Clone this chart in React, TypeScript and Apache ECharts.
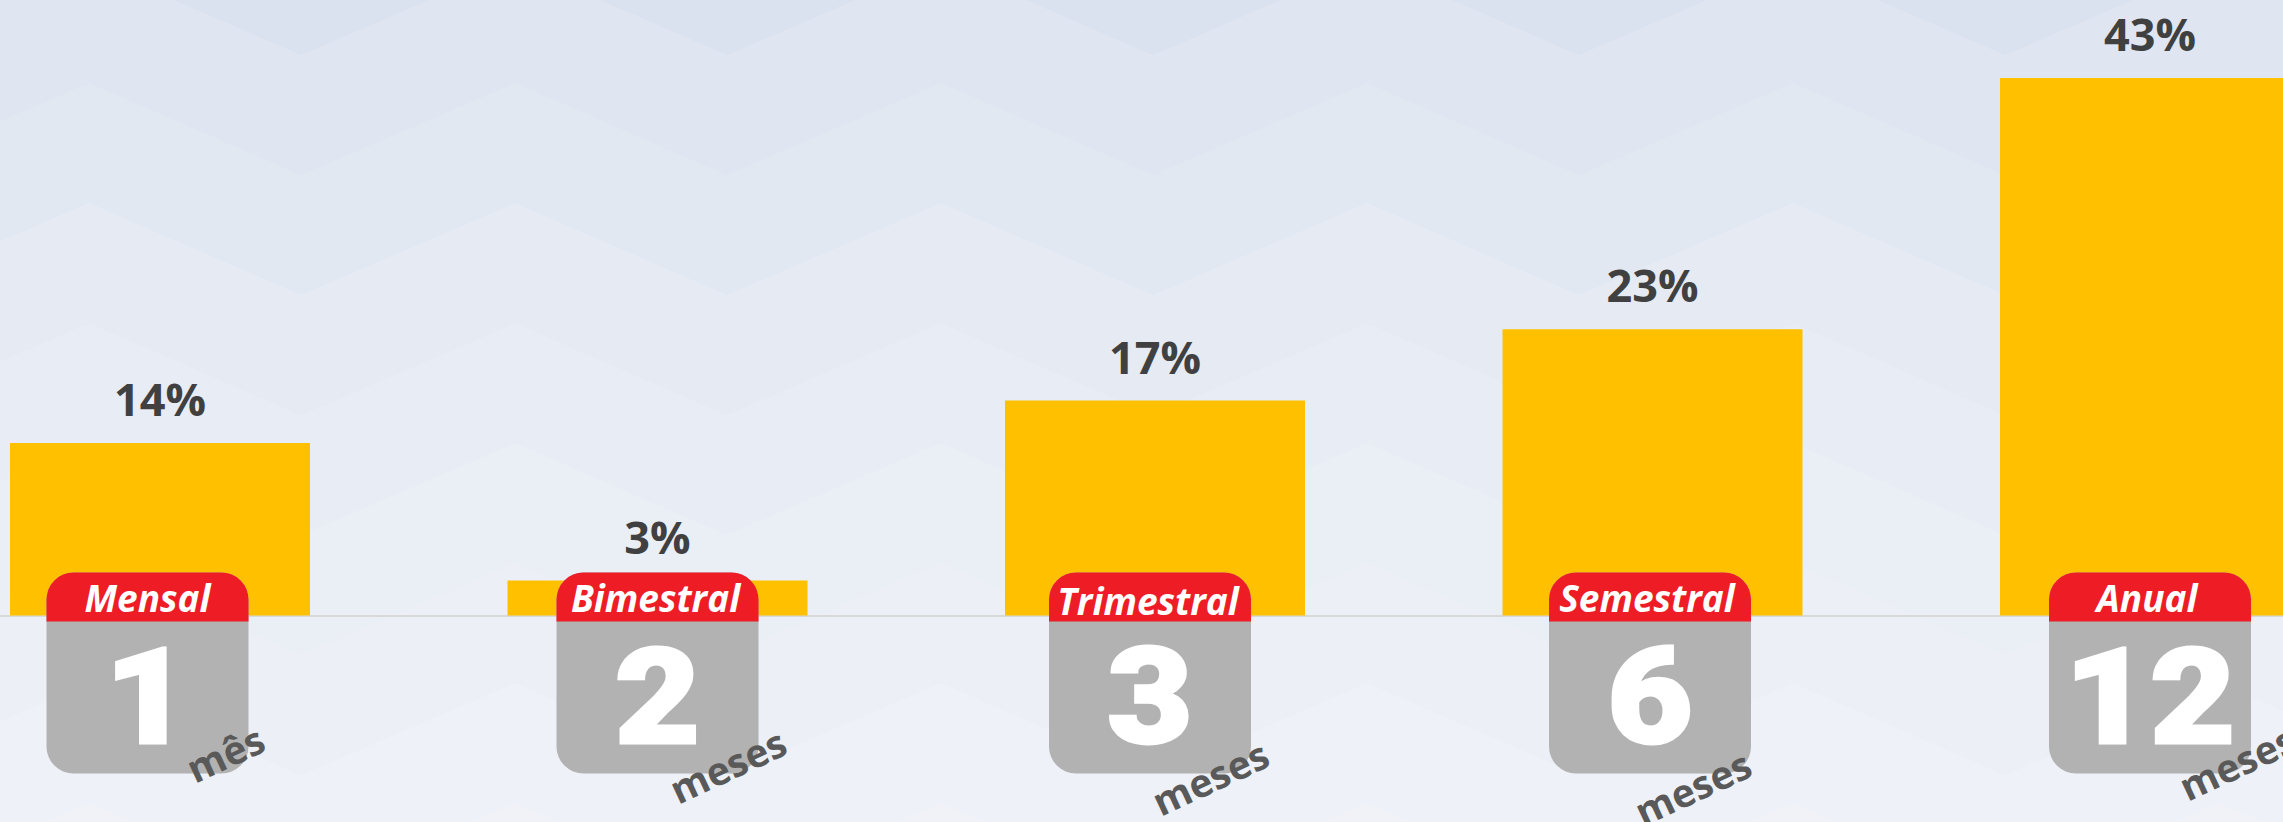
import React, { useEffect, useRef } from "react";
import * as echarts from "echarts";

const categories = ["Mensal", "Bimestral", "Trimestral", "Semestral", "Anual"];
const values = [13.8, 2.8, 17.2, 22.9, 43];
const monthCounts = ["1", "2", "3", "6", "12"];
const unitLabels = ["mês", "meses", "meses", "meses", "meses"];

const W = 2283;
const H = 822;
const badgeDx = [-12.5, 0, -5, -2.5, 0];
const titleDx = [0, -2, -2, -3, -3];
const titleDy = [0, 0, 3, 0, 0];
const unitDx = [65, 70, 55, 40, 87];
const unitY = [753, 765, 777, 787, 762];

function zigzagLayers() {
  const layers = [];
  for (let row = 0; row < 8; row++) {
    const peakY = -37 + row * 120;
    const valleyY = peakY + 92;
    const pts: number[][] = [[-200, H + 50]];
    for (let k = -1; k < 7; k++) {
      pts.push([89 + k * 426, peakY]);
      pts.push([301 + k * 426, valleyY]);
    }
    pts.push([2900, H + 50]);
    layers.push({
      type: "polygon",
      silent: true,
      z: -10 + row,
      shape: { points: pts },
      style: { fill: "rgba(255,255,255,0.12)" },
    });
  }
  return layers;
}

export default function App() {
  const ref = useRef<HTMLDivElement>(null);
  useEffect(() => {
    document.body.style.margin = "0";
    const chart = echarts.init(ref.current!, undefined, { renderer: "svg" });
    chart.setOption({
      animation: false,
      backgroundColor: "#dbe2ef",
      graphic: { elements: zigzagLayers() },
      grid: { left: -88.75, top: 15.5, width: 2487.5, height: 600, outerBoundsMode: "none" },
      xAxis: {
        type: "category",
        data: categories,
        axisLine: { show: true, lineStyle: { color: "#d9d9d9", width: 2 } },
        axisTick: { show: false },
        axisLabel: { show: false },
      },
      yAxis: { type: "value", min: 0, max: 48, show: false, splitLine: { show: false } },
      series: [
        {
          type: "bar",
          data: values,
          barWidth: 300,
          itemStyle: { color: "#ffc000" },
          label: {
            show: true,
            position: "top",
            distance: 22,
            formatter: (p: any) => Math.round(p.value) + "%",
            fontFamily: "Open Sans",
            fontWeight: "bold",
            fontSize: 45,
            color: "#404040",
          },
        },
        {
          type: "custom",
          data: values.map((_, i) => i),
          clip: false,
          z: 5,
          renderItem: (_: any, api: any) => {
            const i = api.value(0);
            const [cx] = api.coord([i, 0]);
            const c = cx + badgeDx[i];
            const l = c - 101;
            return {
              type: "group",
              children: [
                { type: "rect", shape: { x: l, y: 572.5, width: 202, height: 201, r: 27 }, style: { fill: "#b2b2b2" } },
                { type: "rect", shape: { x: l, y: 572.5, width: 202, height: 49, r: [27, 27, 0, 0] }, style: { fill: "#ee1c25" } },
                {
                  type: "text",
                  style: {
                    text: categories[i], x: c + titleDx[i], y: 597 + titleDy[i], align: "center", verticalAlign: "middle",
                    fill: "#fff", font: "italic bold 37px 'Open Sans'",
                  },
                },
                {
                  type: "text",
                  x: c,
                  y: 697,
                  scaleX: 1.1,
                  style: {
                    text: monthCounts[i], x: 0, y: 0, align: "center", verticalAlign: "middle",
                    fill: "#fff", stroke: "#fff", lineWidth: 3, font: "900 134px Roboto",
                  },
                },
                {
                  type: "text",
                  x: cx + unitDx[i],
                  y: unitY[i],
                  rotation: (25 * Math.PI) / 180,
                  style: {
                    text: unitLabels[i], x: 0, y: 0, align: "center", verticalAlign: "middle",
                    fill: "#595959", font: "bold 39px 'Open Sans'",
                  },
                },
              ],
            };
          },
        },
      ],
    });
    return () => chart.dispose();
  }, []);
  return <div ref={ref} style={{ width: W, height: H }} />;
}
